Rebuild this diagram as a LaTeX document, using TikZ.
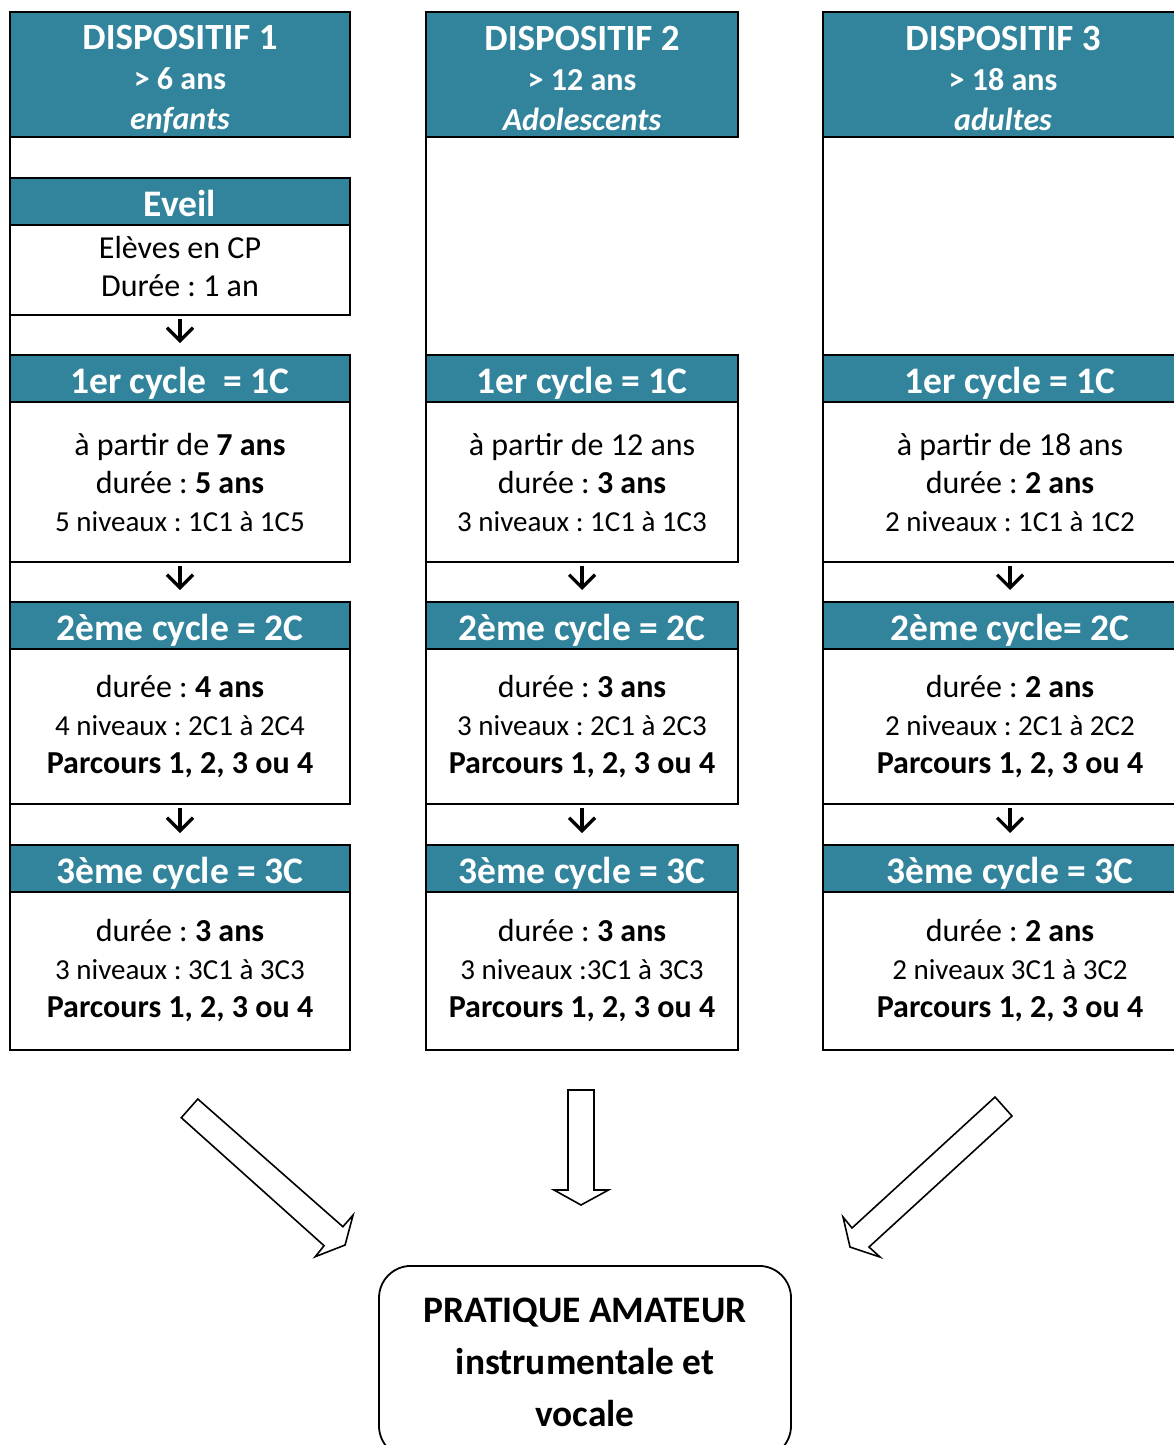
\documentclass[tikz,border=0pt]{standalone}
\usepackage{fontspec}
\setmainfont{Carlito}
\usetikzlibrary{positioning, arrows.meta}
\frenchspacing

\definecolor{dispoblue}{HTML}{31849B}
\newcommand{\niv}{\fontsize{29}{38}\selectfont}

\tikzset{
  band/.style={draw, line width=1.6pt, fill=dispoblue, text=white, inner sep=0pt, outer sep=0pt,
               minimum height=47pt, text height=31pt, text depth=1pt,
               font=\fontsize{37.5}{40}\selectfont\bfseries},
  headbox/.style={draw, line width=1.6pt, fill=dispoblue, text=white, inner sep=0pt, outer sep=0pt,
                  minimum height=125pt, align=center, font=\fontsize{32}{40}\selectfont\bfseries},
  bodybox/.style={draw, line width=1.6pt, fill=white, inner sep=0pt, outer sep=0pt, align=center,
                  font=\fontsize{32}{38}\selectfont},
  stepArrow/.style={-{Straight Barb[length=13pt,width=26pt]}, line width=3.2pt,
                    shorten <=4pt, shorten >=12pt},
  bigArrow/.style={draw, line width=1.6pt, fill=white, line join=miter},
  finalbox/.style={draw, line width=1.8pt, rounded corners=32pt, inner sep=0pt, align=center,
                   font=\fontsize{37.4}{52}\selectfont\bfseries}
}

\begin{document}
\begin{tikzpicture}[x=1pt, y=1pt]
\useasboundingbox (0,0) rectangle (1173,-1445);

% dispositif 1
\node[headbox, minimum width=340pt, anchor=north west] (hd1) at (10,-12)
  {{\fontsize{37}{40}\selectfont\rule{0pt}{33pt}DISPOSITIF 1}\\> 6 ans\\\textit{enfants}};
\node[band, minimum width=340pt, below=41pt of hd1] (ev1) {Eveil};
\node[bodybox, minimum width=340pt, minimum height=90pt, below=0pt of ev1] (evb1)
  {Elèves en CP\\Durée : 1 an\rule[-7pt]{0pt}{7pt}};
\node[band, minimum width=340pt, below=40pt of evb1] (ca1) {1er cycle~ = 1C};
\node[bodybox, minimum width=340pt, minimum height=160pt, below=0pt of ca1] (cab1)
  {à partir de \textbf{7 ans}\\durée : \textbf{5 ans}\\{\niv 5 niveaux : 1C1 à 1C5}};
\node[band, minimum width=340pt, below=40pt of cab1] (cb1) {2ème cycle = 2C};
\node[bodybox, minimum width=340pt, minimum height=155pt, below=0pt of cb1] (cbb1)
  {durée : \textbf{4 ans}\\{\niv 4 niveaux : 2C1 à 2C4}\\\textbf{Parcours 1, 2, 3 ou 4}};
\node[band, minimum width=340pt, below=41pt of cbb1] (cc1) {3ème cycle = 3C};
\node[bodybox, minimum width=340pt, minimum height=158pt, below=0pt of cc1] (ccb1)
  {durée : \textbf{3 ans}\\{\niv 3 niveaux : 3C1 à 3C3}\\\textbf{Parcours 1, 2, 3 ou 4}};

% dispositif 2
\node[headbox, minimum width=312pt, anchor=north west] (hd2) at (426,-12)
  {{\fontsize{37}{40}\selectfont\rule{0pt}{33pt}DISPOSITIF 2}\\> 12 ans\\\textit{Adolescents}};
\node[band, minimum width=312pt, below=218pt of hd2] (ca2) {1er cycle = 1C};
\node[bodybox, minimum width=312pt, minimum height=160pt, below=0pt of ca2] (cab2)
  {à partir de 12 ans\\durée : \textbf{3 ans}\\{\niv 3 niveaux : 1C1 à 1C3}};
\node[band, minimum width=312pt, below=40pt of cab2] (cb2) {2ème cycle = 2C};
\node[bodybox, minimum width=312pt, minimum height=155pt, below=0pt of cb2] (cbb2)
  {durée : \textbf{3 ans}\\{\niv 3 niveaux : 2C1 à 2C3}\\\textbf{Parcours 1, 2, 3 ou 4}};
\node[band, minimum width=312pt, below=41pt of cbb2] (cc2) {3ème cycle = 3C};
\node[bodybox, minimum width=312pt, minimum height=158pt, below=0pt of cc2] (ccb2)
  {durée : \textbf{3 ans}\\{\niv 3 niveaux :3C1 à 3C3}\\\textbf{Parcours 1, 2, 3 ou 4}};

% dispositif 3
\node[headbox, minimum width=360pt, anchor=north west] (hd3) at (823,-12)
  {{\fontsize{37}{40}\selectfont\rule{0pt}{33pt}DISPOSITIF 3}\\> 18 ans\\\textit{adultes}};
\node[band, minimum width=374pt, below=218pt of hd3.south west, anchor=north west] (ca3) {1er cycle = 1C};
\node[bodybox, minimum width=374pt, minimum height=160pt, below=0pt of ca3] (cab3)
  {à partir de 18 ans\\durée : \textbf{2 ans}\\{\niv 2 niveaux : 1C1 à 1C2}};
\node[band, minimum width=374pt, below=40pt of cab3] (cb3) {2ème cycle= 2C};
\node[bodybox, minimum width=374pt, minimum height=155pt, below=0pt of cb3] (cbb3)
  {durée : \textbf{2 ans}\\{\niv 2 niveaux : 2C1 à 2C2}\\\textbf{Parcours 1, 2, 3 ou 4}};
\node[band, minimum width=374pt, below=41pt of cbb3] (cc3) {3ème cycle = 3C};
\node[bodybox, minimum width=374pt, minimum height=158pt, below=0pt of cc3] (ccb3)
  {durée : \textbf{2 ans}\\{\niv 2 niveaux 3C1 à 3C2}\\\textbf{Parcours 1, 2, 3 ou 4}};

% left borders running down each column
\draw[line width=1.6pt] (hd1.north west) -- (ccb1.south west);
\draw[line width=1.6pt] (hd2.north west) -- (ccb2.south west);
\draw[line width=1.6pt] (hd3.north west) -- (ccb3.south west);

% small arrows between levels
\draw[stepArrow] (evb1.south) -- (ca1.north);
\draw[stepArrow] (cab1.south) -- (cb1.north);
\draw[stepArrow] (cbb1.south) -- (cc1.north);
\draw[stepArrow] (cab2.south) -- (cb2.north);
\draw[stepArrow] (cbb2.south) -- (cc2.north);
\draw[stepArrow] (cab3.south) -- (cb3.north);
\draw[stepArrow] (cbb3.south) -- (cc3.north);

% final box
\node[finalbox, minimum width=412pt, minimum height=192pt, anchor=north] (pa) at (585,-1265)
  {PRATIQUE AMATEUR\\instrumentale et\\vocale};

% block arrows towards the final box
\draw[bigArrow] (197.8,-1099) -- (342.9,-1226.7) -- (353.1,-1215) -- (345.1,-1245)
  -- (315.2,-1256.7) -- (324.1,-1245.7) -- (181.3,-1117.7) -- cycle;
\draw[bigArrow] (568,-1090) -- (594,-1090) -- (594,-1190) -- (608.5,-1190)
  -- (581,-1205) -- (554,-1190) -- (568,-1190) -- cycle;
\draw[bigArrow] (995,-1097) -- (1012,-1116) -- (869,-1247) -- (880,-1257)
  -- (850,-1247) -- (843,-1217) -- (852,-1228) -- cycle;
\end{tikzpicture}
\end{document}
